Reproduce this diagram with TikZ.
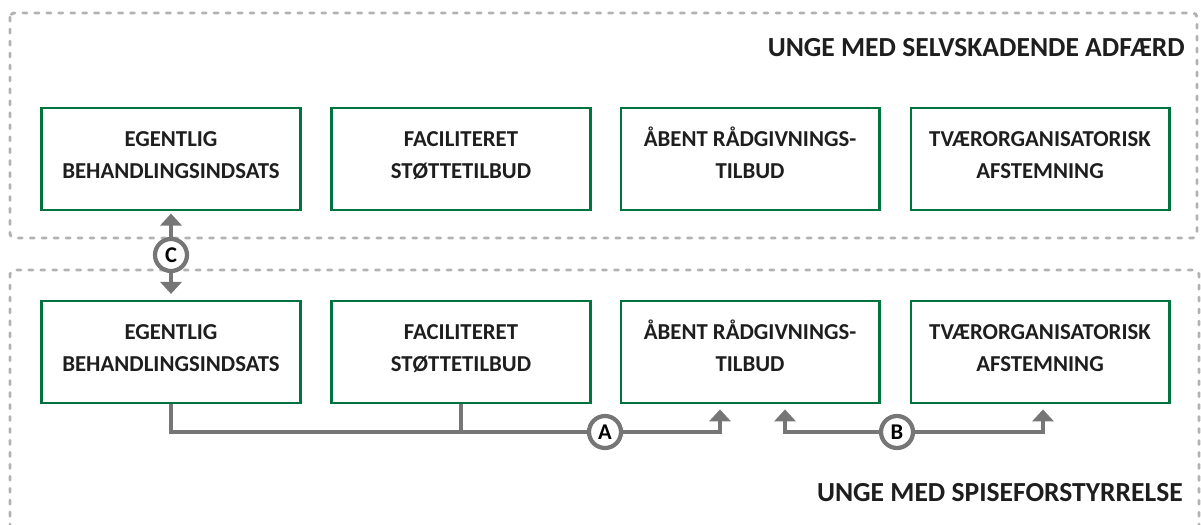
\documentclass[tikz,border=0pt]{standalone}
\usepackage{fontspec}
\setmainfont{Carlito}
\usetikzlibrary{arrows.meta}
\definecolor{boxgreen}{RGB}{0,115,62}
\definecolor{framegray}{RGB}{178,178,178}
\definecolor{linkgray}{RGB}{118,118,118}
\definecolor{textdark}{RGB}{30,30,30}

\begin{document}
\begin{tikzpicture}[x=0.025cm, y=-0.025cm,
    frame/.style={draw=framegray, line width=2.1pt, line cap=round,
      dash pattern=on 2.8pt off 5.7pt, rounded corners=3pt},
    unit/.style={draw=boxgreen, line width=2.1pt, minimum width=6.45cm,
      minimum height=2.55cm, align=center, text=textdark,
      text height=34.7pt, text depth=7.1pt,
      font=\bfseries\fontsize{16.2}{22.7}\selectfont},
    title/.style={anchor=east, text=textdark, inner sep=0pt,
      font=\bfseries\fontsize{19.6}{22}\selectfont},
    link/.style={draw=linkgray, line width=2.8pt},
    tip/.style={-{Triangle[width=15pt,length=8.5pt]}},
    badge/.style={circle, draw=linkgray, line width=3pt, fill=white,
      minimum size=0.8cm, inner sep=0pt, font=\bfseries\fontsize{16}{16}\selectfont}]
        \useasboundingbox (0,0) rectangle (1201,525);
        % Draw the two dashed groups
        \draw[frame] (10,13) rectangle (1197,238);
        \draw[frame] (10,540) |- (1199,270) -- (1199,540);
        \node[title] (top) at (1185,48) {UNGE MED SELVSKADENDE ADFÆRD};
        \node[title] (bot) at (1183,493) {UNGE MED SPISEFORSTYRRELSE};
        % Draw the upper row
        \foreach \n/\x/\t in {ue/171/{EGENTLIG\\BEHANDLINGSINDSATS},
            uf/461/{FACILITERET\\STØTTETILBUD},
            ua/750/{ÅBENT RÅDGIVNINGS-\\TILBUD},
            ut/1040/{TVÆRORGANISATORISK\\AFSTEMNING}}
        \node[unit] (\n) at (\x,159) {\t};
        % Draw the lower row
        \foreach \n/\x/\t in {le/171/{EGENTLIG\\BEHANDLINGSINDSATS},
            lf/461/{FACILITERET\\STØTTETILBUD},
            la/750/{ÅBENT RÅDGIVNINGS-\\TILBUD},
            lt/1040/{TVÆRORGANISATORISK\\AFSTEMNING}}
        \node[unit] (\n) at (\x,352) {\t};
        % Draw the links
        \node[badge] (cc) at (171,255) {C};
        \node[badge] (ca) at (605,432) {A};
        \node[badge] (cb) at (897,432) {B};
        \draw[link,tip,shorten >=1.5pt] (cc.north) -- (ue.south);
        \draw[link,tip,shorten >=4pt] (cc.south) -- (le.north);
        \draw[link] (le.south) |- (ca.west);
        \draw[link] (lf.south) -- (lf.south |- ca.west);
        \draw[link,tip,shorten >=3.5pt] (ca.east) -| ([xshift=-0.75cm]la.south);
        \draw[link,tip,shorten >=3.5pt] (cb.west) -| ([xshift=0.875cm]la.south);
        \draw[link,tip,shorten >=3.5pt] (cb.east) -| ([xshift=0.075cm]lt.south);
    \end{tikzpicture}
\end{document}
